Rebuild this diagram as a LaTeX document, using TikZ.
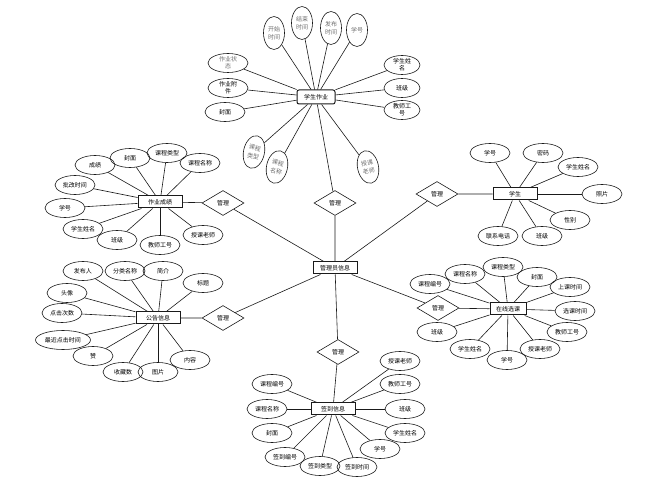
\documentclass[tikz,border=0pt]{standalone}
\usepackage{fontspec}
\setmainfont{Noto Sans CJK SC}
\usetikzlibrary{shapes.geometric}
\definecolor{ink}{HTML}{1A1A1A}
\definecolor{soft}{HTML}{6E6E6E}
\tikzset{
  ent/.style={draw=ink, line width=1pt, minimum width=44pt, minimum height=12pt, inner sep=0pt, font=\fontsize{6}{7}\selectfont},
  rel/.style={draw=ink, line width=0.6pt, diamond, aspect=1.7, minimum width=42pt, minimum height=25pt, inner sep=0pt, font=\fontsize{6}{7}\selectfont},
  att/.style={draw=ink, line width=0.6pt, ellipse, minimum width=40pt, minimum height=19pt, inner sep=0pt, align=center, font=\fontsize{6}{7}\selectfont},
  vat/.style={att, minimum width=21pt, minimum height=33pt, text=soft, font=\fontsize{6}{8.5}\selectfont},
  link/.style={draw=ink, line width=0.6pt},
}
\begin{document}
\begin{tikzpicture}[x=1pt,y=-1pt]
  \useasboundingbox[fill=white] (0,0) rectangle (649,497);
  % centre
  \node[ent] (adm) at (335,268) {管理员信息};
  % student homework
  \node[ent, rounded corners=2pt, minimum width=38pt, minimum height=14pt] (hw) at (316,97) {学生作业};
  \node[vat] (hw1) at (274,33) {开始\\时间};
  \node[vat] (hw2) at (302,23) {结束\\时间};
  \node[vat] (hw3) at (331,28) {发布\\时间};
  \node[vat] (hw4) at (357,30) {学号};
  \node[att, text=soft] (hw5) at (228,63) {作业状\\态};
  \node[att] (hw6) at (228,88) {作业附\\件};
  \node[att] (hw7) at (225,112) {封面};
  \node[att, minimum width=36pt] (hw8) at (402,65) {学生姓\\名};
  \node[att, minimum width=36pt] (hw9) at (402,88) {班级};
  \node[att, minimum width=36pt] (hw10) at (402,110) {教师工\\号};
  \node[vat, rotate=-12] (hw11) at (254,152) {课程\\类型};
  \node[vat, rotate=-12] (hw12) at (277,167) {课程\\名称};
  \node[vat, rotate=12] (hw13) at (368,167) {授课\\老师};
  \node[rel] (r1) at (335,203) {管理};
  \foreach \a in {hw1,hw2,hw3,hw4,hw5,hw6,hw7,hw8,hw9,hw10,hw11,hw12,hw13}
    \draw[link] (hw) -- (\a);
  % homework scores
  \node[ent] (sc) at (160,202) {作业成绩};
  \node[att] (sc1) at (95,165) {成绩};
  \node[att] (sc2) at (130,158) {封面};
  \node[att] (sc3) at (167,153) {课程类型};
  \node[att] (sc4) at (200,163) {课程名称};
  \node[att] (sc5) at (75,185) {批改时间};
  \node[att] (sc6) at (65,208) {学号};
  \node[att] (sc7) at (83,229) {学生姓名};
  \node[att] (sc8) at (117,240) {班级};
  \node[att] (sc9) at (160,245) {教师工号};
  \node[att] (sc10) at (203,235) {授课老师};
  \node[rel] (r2) at (223,203) {管理};
  \foreach \a in {sc1,sc2,sc3,sc4,sc5,sc6,sc7,sc8,sc9,sc10}
    \draw[link] (sc) -- (\a);
  % notices
  \node[ent] (nt) at (158,318) {公告信息};
  \node[att] (nt1) at (83,271) {发布人};
  \node[att] (nt2) at (125,271) {分类名称};
  \node[att] (nt3) at (163,271) {简介};
  \node[att] (nt4) at (203,283) {标题};
  \node[att] (nt5) at (67,293) {头像};
  \node[att] (nt6) at (62,313) {点击次数};
  \node[att, minimum width=55pt] (nt7) at (63,340) {最近点击时间};
  \node[att] (nt8) at (93,356) {赞};
  \node[att] (nt9) at (123,372) {收藏数};
  \node[att] (nt10) at (158,372) {图片};
  \node[att] (nt11) at (190,360) {内容};
  \node[rel] (r3) at (223,318) {管理};
  \foreach \a in {nt1,nt2,nt3,nt4,nt5,nt6,nt7,nt8,nt9,nt10,nt11}
    \draw[link] (nt) -- (\a);
  % students
  \node[ent] (stu) at (515,194) {学生};
  \node[att] (stu1) at (490,153) {学号};
  \node[att] (stu2) at (543,153) {密码};
  \node[att] (stu3) at (578,167) {学生姓名};
  \node[att] (stu4) at (602,194) {照片};
  \node[att] (stu5) at (570,220) {性别};
  \node[att] (stu6) at (498,236) {联系电话};
  \node[att] (stu7) at (542,236) {班级};
  \node[rel] (r4) at (437,194) {管理};
  \foreach \a in {stu1,stu2,stu3,stu4,stu5,stu6,stu7}
    \draw[link] (stu) -- (\a);
  % course selection
  \node[ent, minimum width=36pt] (cs) at (508,309) {在线选课};
  \node[att] (cs1) at (430,284) {课程编号};
  \node[att] (cs2) at (465,274) {课程名称};
  \node[att] (cs3) at (503,267) {课程类型};
  \node[att] (cs4) at (537,277) {封面};
  \node[att] (cs5) at (570,287) {上课时间};
  \node[att] (cs6) at (575,311) {选课时间};
  \node[att] (cs7) at (567,332) {教师工号};
  \node[att] (cs8) at (540,349) {授课老师};
  \node[att] (cs9) at (507,360) {学号};
  \node[att] (cs10) at (470,349) {学生姓名};
  \node[att] (cs11) at (437,332) {班级};
  \node[rel] (r5) at (438,308) {管理};
  \foreach \a in {cs1,cs2,cs3,cs4,cs5,cs6,cs7,cs8,cs9,cs10,cs11}
    \draw[link] (cs) -- (\a);
  % check-in
  \node[ent] (ck) at (333,409) {签到信息};
  \node[att] (ck1) at (400,361) {授课老师};
  \node[att] (ck2) at (400,384) {教师工号};
  \node[att] (ck3) at (405,409) {班级};
  \node[att] (ck4) at (405,433) {学生姓名};
  \node[att] (ck5) at (380,449) {学号};
  \node[att] (ck6) at (357,467) {签到时间};
  \node[att] (ck7) at (320,466) {签到类型};
  \node[att] (ck8) at (285,457) {签到编号};
  \node[att] (ck9) at (272,433) {封面};
  \node[att] (ck10) at (267,409) {课程名称};
  \node[att] (ck11) at (272,384) {课程编号};
  \node[rel] (r6) at (338,352) {管理};
  \foreach \a in {ck1,ck2,ck3,ck4,ck5,ck6,ck7,ck8,ck9,ck10,ck11}
    \draw[link] (ck) -- (\a);
  % relations
  \draw[link] (hw) -- (r1) -- (adm);
  \draw[link] (sc) -- (r2) -- (adm);
  \draw[link] (nt) -- (r3) -- (adm);
  \draw[link] (stu) -- (r4) -- (adm);
  \draw[link] (cs) -- (r5) -- (adm);
  \draw[link] (ck) -- (r6) -- (adm);
\end{tikzpicture}
\end{document}
